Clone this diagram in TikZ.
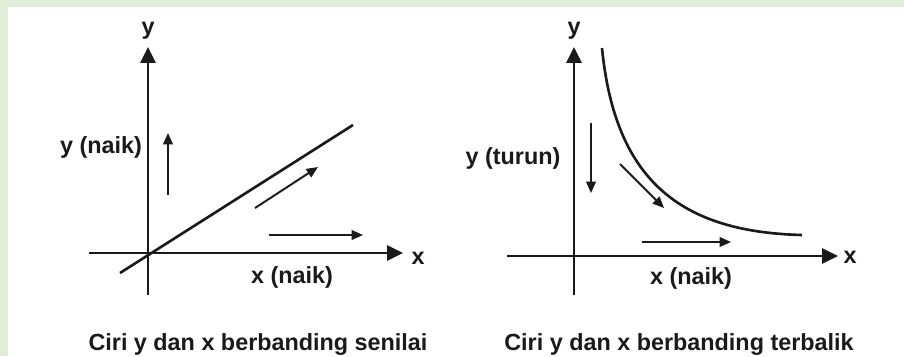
\documentclass[tikz,border=0pt]{standalone}
\usepackage{fontspec}
\setmainfont{Liberation Sans}
\usepackage{xcolor}
\definecolor{sage}{HTML}{E2EED9}
\definecolor{ink}{HTML}{1A1A1A}
\usetikzlibrary{arrows.meta,positioning}

\begin{document}
\begin{tikzpicture}[x=0.02cm,y=-0.02cm,
  axis/.style={-{Triangle[length=9pt,width=8.5pt]},line width=1.5pt,color=ink},
  arr/.style={-{Triangle[length=6.5pt,width=5.5pt]},line width=1.1pt,color=ink},
  graf/.style={line width=1.5pt,color=ink},
  lbl/.style={inner sep=0pt,anchor=base,font=\fontsize{13.3}{15}\selectfont\bfseries,text=ink}]
  \useasboundingbox (0,0) rectangle (904,356);
  \fill[sage] (0,0) rectangle (904,356);
  \fill[white] (8,7) rectangle (904,356);
  % senilai
  \coordinate (yb1) at (148,295); \coordinate (yt1) at (148,47);
  \coordinate (xl1) at (89,253);  \coordinate (xr1) at (403,253);
  \coordinate (g1a) at (120,273); \coordinate (g1b) at (353,125);
  \coordinate (u1a) at (168,195); \coordinate (u1b) at (168,133);
  \coordinate (d1a) at (255,208); \coordinate (d1b) at (318,167);
  \coordinate (h1a) at (269,235); \coordinate (h1b) at (363,235);
  \draw[axis](yb1)--(yt1); \draw[axis](xl1)--(xr1);
  \draw[graf](g1a)--(g1b);
  \draw[arr](u1a)--(u1b); \draw[arr](d1a)--(d1b); \draw[arr](h1a)--(h1b);
  \node[lbl,anchor=south,above=4pt of yt1](ylab1){y};
  \node[lbl](xlab1) at (418,264){x};
  \node[lbl](yn1) at (101,153){y (naik)};
  \node[lbl](xn1) at (292,283){x (naik)};
  \node[lbl](cap1) at (258,350){Ciri y dan x berbanding senilai};
  % terbalik
  \coordinate (yb2) at (574,295); \coordinate (yt2) at (574,47);
  \coordinate (xl2) at (507,256); \coordinate (xr2) at (838,256);
  \coordinate (g2a) at (602,48);  \coordinate (g2b) at (802,235);
  \coordinate (u2a) at (591,123); \coordinate (u2b) at (591,193);
  \coordinate (d2a) at (620,164); \coordinate (d2b) at (664,208);
  \coordinate (h2a) at (642,242); \coordinate (h2b) at (731,242);
  \draw[axis](yb2)--(yt2); \draw[axis](xl2)--(xr2);
  \draw[graf](g2a) .. controls (615,180) and (680,232) .. (g2b);
  \draw[arr](u2a)--(u2b); \draw[arr](d2a)--(d2b); \draw[arr](h2a)--(h2b);
  \node[lbl,anchor=south,above=4pt of yt2](ylab2){y};
  \node[lbl](xlab2) at (850,263){x};
  \node[lbl](yt2lab) at (513,164){y (turun)};
  \node[lbl](xn2) at (691,284){x (naik)};
  \node[lbl](cap2) at (679,350){Ciri y dan x berbanding terbalik};
\end{tikzpicture}
\end{document}
